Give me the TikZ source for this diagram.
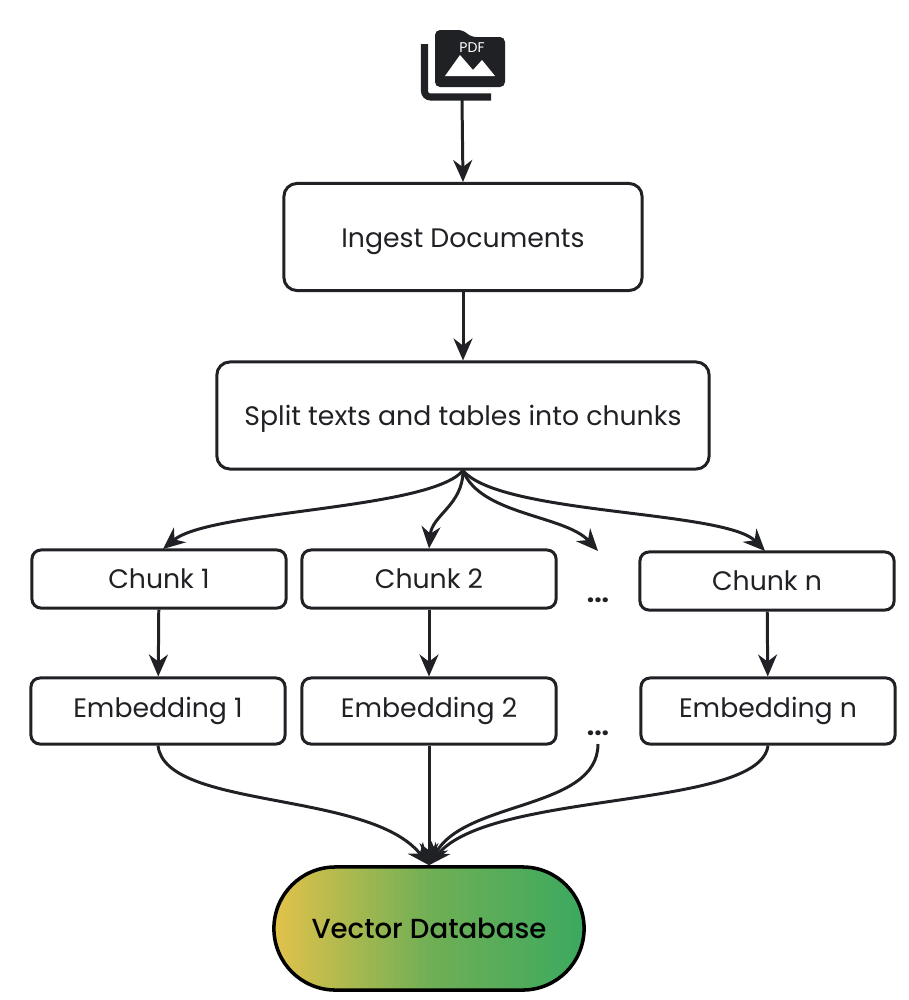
\documentclass[tikz,border=0pt]{standalone}
\usepackage{fontspec}
\setmainfont{Poppins}
\newfontfamily\dbfont{Poppins Medium}
\usepackage{xcolor}
\usetikzlibrary{arrows.meta,shapes.misc}
\definecolor{inkgrey}{HTML}{202124}
\definecolor{dbyellow}{HTML}{E2C24A}
\definecolor{dbmid}{HTML}{70AF55}
\definecolor{dbgreen}{HTML}{3BA95F}

\begin{document}
\begin{tikzpicture}[x=0.01cm, y=-0.01cm,
    step box/.style={draw=inkgrey, line width=0.85pt, rounded corners=0.13cm, inner sep=0pt, text=inkgrey, font=\fontsize{7.6}{10}\selectfont},
    big box/.style={step box, minimum height=1.07cm, text height=7.7pt, text depth=2pt},
    small box/.style={step box, rounded corners=0.09cm, minimum width=2.54cm},
    db box/.style={rounded rectangle, draw=black, line width=1pt, inner sep=0pt, minimum width=3.1cm, minimum height=1.23cm, left color=dbyellow, right color=dbgreen, middle color=dbmid, text=black, font=\fontsize{7.85}{10}\dbfont},
    gap dots/.style={inner sep=0pt, text=inkgrey, font=\fontsize{7.5}{10}\selectfont\bfseries},
    link/.style={draw=inkgrey, line width=0.85pt, -{Stealth[length=0.22cm, width=0.19cm]}}]
    \useasboundingbox (0,0) rectangle (908,1000);
    % pdf icon
    \fill[inkgrey, rounded corners=0.05cm] (435,30) -- (463,30) -- (471,37) -- (505,37) -- (505,87) -- (435,87) -- cycle;
    \draw[inkgrey, line width=2pt, rounded corners=0.06cm] (424.5,44) -- (424.5,97) -- (491,97);
    \fill[white] (445,76) -- (460,55) -- (473,70) -- (482,60) -- (495,76) -- cycle;
    \node[inner sep=0pt, text=white, font=\fontsize{4}{5}\selectfont] (pdflabel) at (472,47.5) {PDF};
    \coordinate (pdfbase) at (462,100);
    % boxes
    \node[big box, minimum width=3.58cm] (ingest) at (463,237) {Ingest Documents};
    \node[big box, minimum width=4.92cm] (split) at (463,415.5) {Split texts and tables into chunks};
    \node[small box, minimum height=0.58cm] (chunk1) at (159,579) {Chunk 1};
    \node[small box, minimum height=0.58cm] (chunk2) at (429,579) {Chunk 2};
    \node[gap dots] (dots1) at (598,600) {...};
    \node[small box, minimum height=0.58cm] (chunkn) at (767,581) {Chunk n};
    \node[small box, minimum height=0.66cm] (embed1) at (158,711) {Embedding 1};
    \node[small box, minimum height=0.66cm] (embed2) at (429,711) {Embedding 2};
    \node[gap dots] (dots2) at (598,733) {...};
    \node[small box, minimum height=0.66cm] (embedn) at (768,711) {Embedding n};
    \node[db box] (db) at (429,928.5) {Vector Database};
    \coordinate (dots1top) at (598,551);
    \coordinate (dots2low) at (598,744);
    % arrows
    \draw[link] (pdfbase) -- (ingest.north);
    \draw[link] (ingest.south) -- (split.north);
    \draw[link] (split.south) .. controls (430,510) and (210,510) .. (163,549);
    \draw[link] (split.south) .. controls (463,505) and (432,515) .. (chunk2.north);
    \draw[link] (split.south) .. controls (480,515) and (565,515) .. (dots1top);
    \draw[link] (split.south) .. controls (500,515) and (725,510) .. (765,551);
    \draw[link] (chunk1) -- (embed1);
    \draw[link] (chunk2) -- (embed2);
    \draw[link] (chunkn) -- (embedn);
    \draw[link] (embed1.south) .. controls (165,810) and (370,790) .. (db.north);
    \draw[link] (embed2) -- (db.north);
    \draw[link] (dots2low) .. controls (598,810) and (465,800) .. (db.north);
    \draw[link] (embedn.south) .. controls (760,810) and (490,790) .. (db.north);
\end{tikzpicture}
\end{document}
